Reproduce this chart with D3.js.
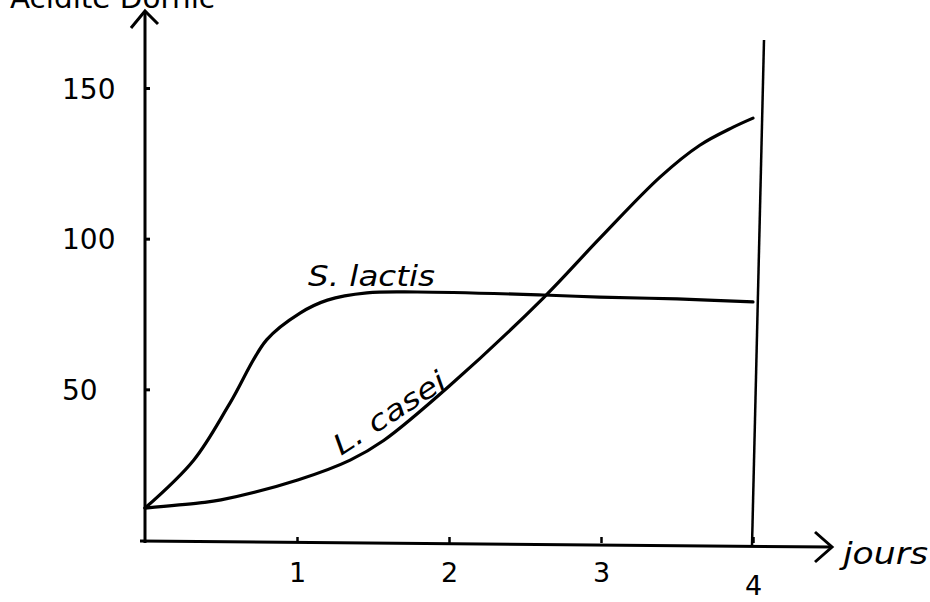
<!DOCTYPE html>
<html>
<head>
<meta charset="utf-8">
<script src="https://cdn.jsdelivr.net/npm/d3@7"></script>
<style>
  html, body { margin: 0; padding: 0; background: #fff; }
  svg { display: block; }
  text { font-family: "DejaVu Sans", sans-serif; fill: #000; }
</style>
</head>
<body>
<svg id="chart" width="930" height="602"></svg>
<script>
// ---- data ----
const yTitle = "Acidité Dornic";
const xTitle = "jours";
const xTicks = [1, 2, 3, 4];
const yTicks = [50, 100, 150];
const lactisName = "S. lactis";
const lactisDays   = [0, 0.32, 0.56, 0.80, 1.02, 1.20, 1.46, 1.79, 2.62, 2.99, 3.5, 4.0];
const lactisValues = [10.6, 26.5, 45.5, 66.4, 75.3, 79.6, 82, 82.3, 81.3, 80.6, 80, 79];
const caseiName = "L. casei";
const caseiDays   = [0, 0.36, 0.5, 1.01, 1.35, 1.57, 2.0, 2.62, 2.99, 3.39, 3.65, 3.87, 4.0];
const caseiValues = [10.6, 12.3, 13.3, 20, 26.5, 33, 51, 80.3, 100, 120.5, 131, 137, 140];

// ---- layout ----
const svg = d3.select("#chart");
const x = d3.scaleLinear().domain([0, 4]).range([145, 753]);
const y = d3.scaleLinear().domain([0, 150]).range([540, 88]);
const ink = "#000";

// y axis (ticks pointing right)
const yAxis = svg.append("g").attr("transform", `translate(${x(0)},0)`)
  .call(d3.axisLeft(y).tickValues(yTicks).tickSize(-5).tickFormat(d3.format("d")));
yAxis.select(".domain").remove();
yAxis.selectAll(".tick line").attr("stroke", ink).attr("stroke-width", 3);
yAxis.selectAll(".tick text")
  .attr("x", -83).attr("dy", "0.36em")
  .attr("text-anchor", "start")
  .style("font-size", "28px")
  .style("font-family", "'DejaVu Sans', sans-serif");

// y axis line + arrow
svg.append("path")
  .attr("d", `M${x(0)},${y(0) + 3} L${x(0)},11`)
  .attr("stroke", ink).attr("stroke-width", 3).attr("fill", "none");
svg.append("path")
  .attr("d", `M${x(0) - 14},28 L${x(0)},11 L${x(0) + 13},24`)
  .attr("stroke", ink).attr("stroke-width", 3).attr("fill", "none")
  .attr("stroke-linejoin", "miter");

// x axis (ticks pointing up)
const xAxis = svg.append("g").attr("transform", `translate(0,${y(0) + 3})`)
  .call(d3.axisBottom(x).tickValues(xTicks).tickSize(-6).tickFormat(d3.format("d")));
xAxis.select(".domain").remove();
xAxis.selectAll(".tick line").attr("stroke", ink).attr("stroke-width", 2.5);
xAxis.selectAll(".tick text")
  .attr("y", d => d === 4 ? 52 : 39)
  .attr("dy", 0)
  .style("font-size", "27px")
  .style("font-family", "'DejaVu Sans', sans-serif");

// x axis line + arrow (slightly sloped, hand drawn)
svg.append("path")
  .attr("d", `M${x(0) - 5},${y(0) + 1} L832,${y(0) + 7}`)
  .attr("stroke", ink).attr("stroke-width", 3).attr("fill", "none");
svg.append("path")
  .attr("d", `M815,532 L832,${y(0) + 7} L815,562`)
  .attr("stroke", ink).attr("stroke-width", 3).attr("fill", "none");

// vertical line at day 4
svg.append("path")
  .attr("d", `M${x(4) + 11},40 L${x(4) - 1},${y(0) + 6}`)
  .attr("stroke", ink).attr("stroke-width", 2.5).attr("fill", "none");

// curves
const line = d3.line().x(d => x(d[0])).y(d => y(d[1])).curve(d3.curveCatmullRom.alpha(0.5));
svg.append("path")
  .datum(lactisDays.map((d, i) => [d, lactisValues[i]]))
  .attr("d", line)
  .attr("stroke", ink).attr("stroke-width", 3.2).attr("fill", "none")
  .attr("stroke-linecap", "round").attr("stroke-linejoin", "round");
svg.append("path")
  .datum(caseiDays.map((d, i) => [d, caseiValues[i]]))
  .attr("d", line)
  .attr("stroke", ink).attr("stroke-width", 3.2).attr("fill", "none")
  .attr("stroke-linecap", "round").attr("stroke-linejoin", "round");

// curve labels
svg.append("text")
  .attr("x", 308).attr("y", 286)
  .attr("textLength", 127).attr("lengthAdjust", "spacingAndGlyphs")
  .style("font-size", "28px").style("font-style", "italic")
  .text(lactisName);
svg.append("text")
  .attr("transform", "translate(341,456) rotate(-33)")
  .attr("textLength", 128).attr("lengthAdjust", "spacingAndGlyphs")
  .style("font-size", "28px").style("font-style", "italic")
  .text(caseiName);

// axis titles
svg.append("text")
  .attr("x", 843).attr("y", 564)
  .attr("textLength", 85).attr("lengthAdjust", "spacingAndGlyphs")
  .style("font-size", "30px").style("font-style", "italic")
  .text(xTitle);
svg.append("text")
  .attr("x", 10).attr("y", 8)
  .attr("textLength", 205).attr("lengthAdjust", "spacingAndGlyphs")
  .style("font-size", "28px")
  .text(yTitle);
</script>
</body>
</html>
